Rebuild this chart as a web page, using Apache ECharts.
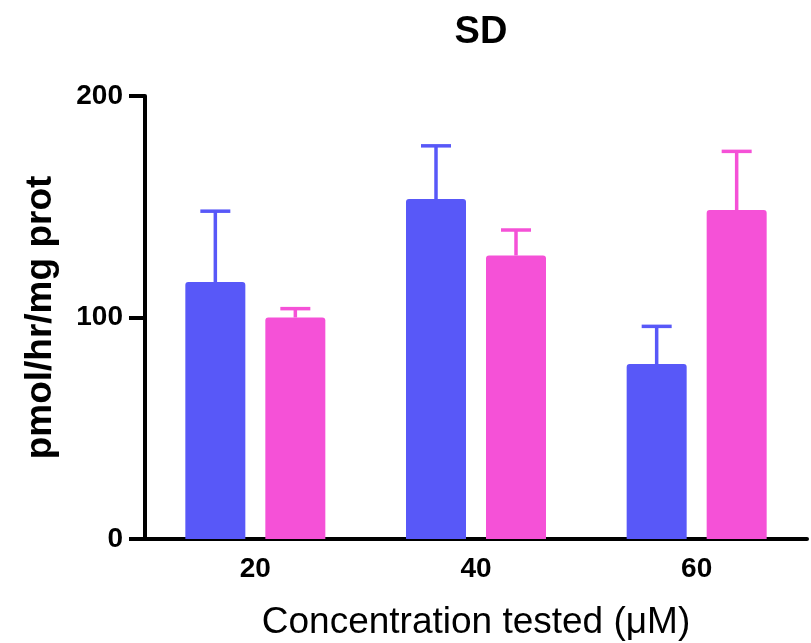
<!DOCTYPE html>
<html>
<head>
<meta charset="utf-8">
<script src="https://cdn.jsdelivr.net/npm/echarts@6/dist/echarts.min.js"></script>
<style>
  html, body { margin: 0; padding: 0; background: #fff; }
  #main { width: 811px; height: 643px; }
</style>
</head>
<body>
<div id="main"></div>
<script>
// data
var categories = ['20', '40', '60'];
var blueMean = [116, 153.5, 79];
var blueErr = [32, 24, 17];
var pinkMean = [100, 128, 148.5];
var pinkErr = [4, 11.5, 26.5];
var yTicks = [0, 100, 200];

var BLUE = '#5858F8';
var PINK = '#F551D7';
var BAR_W = 60;
var BAR_GAP = 20;

// upper-only error bar, shifted to sit on its bar
function errorBar(color, side) {
  return function (params, api) {
    var idx = api.value(0);
    var top = api.coord([idx, api.value(2)]);
    var base = api.coord([idx, api.value(1)]);
    var x = top[0] + side * (BAR_W + BAR_GAP) / 2;
    var capHalf = 15;
    var st = { stroke: color, lineWidth: 3.5 };
    return {
      type: 'group',
      children: [
        { type: 'line', shape: { x1: x, y1: base[1], x2: x, y2: top[1] }, style: st },
        { type: 'line', shape: { x1: x - capHalf, y1: top[1], x2: x + capHalf, y2: top[1] }, style: st }
      ]
    };
  };
}

function errData(mean, err) {
  return mean.map(function (m, i) { return [i, m, m + err[i]]; });
}

var chart = echarts.init(document.getElementById('main'));
chart.setOption({
  animation: false,
  title: {
    text: 'SD',
    left: 476,
    textAlign: 'center',
    top: 9,
    textStyle: { fontFamily: 'Liberation Sans', fontWeight: 'bold', fontSize: 38, color: '#000' }
  },
  grid: { left: 145, right: 4, top: 96, bottom: 104, containLabel: false, outerBoundsMode: 'none' },
  xAxis: {
    type: 'category',
    data: categories,
    boundaryGap: true,
    name: 'Concentration tested (μM)',
    nameLocation: 'middle',
    nameGap: 65,
    nameTextStyle: { fontFamily: 'Liberation Sans', fontSize: 37, color: '#000' },
    axisLine: { lineStyle: { color: '#000', width: 4 } },
    axisTick: { alignWithLabel: true, length: 14, lineStyle: { color: '#000', width: 4 } },
    axisLabel: { margin: 16, fontFamily: 'Liberation Sans', fontWeight: 'bold', fontSize: 28, color: '#000' }
  },
  yAxis: {
    type: 'value',
    min: yTicks[0],
    max: yTicks[yTicks.length - 1],
    interval: yTicks[1] - yTicks[0],
    name: 'pmol/hr/mg prot',
    nameLocation: 'middle',
    nameGap: 86,
    nameTextStyle: { fontFamily: 'Liberation Sans', fontWeight: 'bold', fontSize: 37, color: '#000' },
    splitLine: { show: false },
    axisLine: { show: true, lineStyle: { color: '#000', width: 4 } },
    axisTick: { show: true, length: 16, lineStyle: { color: '#000', width: 4 } },
    axisLabel: { margin: 22, fontFamily: 'Liberation Sans', fontWeight: 'bold', fontSize: 28, color: '#000' }
  },
  series: [
    {
      type: 'bar',
      data: blueMean,
      barWidth: BAR_W,
      barGap: (BAR_GAP / BAR_W * 100) + '%',
      itemStyle: { color: BLUE, borderRadius: [3, 3, 0, 0] }
    },
    {
      type: 'bar',
      data: pinkMean,
      barWidth: BAR_W,
      itemStyle: { color: PINK, borderRadius: [3, 3, 0, 0] }
    },
    {
      type: 'custom',
      renderItem: errorBar(BLUE, -1),
      data: errData(blueMean, blueErr),
      encode: { x: 0, y: 2 },
      z: 1
    },
    {
      type: 'custom',
      renderItem: errorBar(PINK, 1),
      data: errData(pinkMean, pinkErr),
      encode: { x: 0, y: 2 },
      z: 1
    }
  ]
});
</script>
</body>
</html>
